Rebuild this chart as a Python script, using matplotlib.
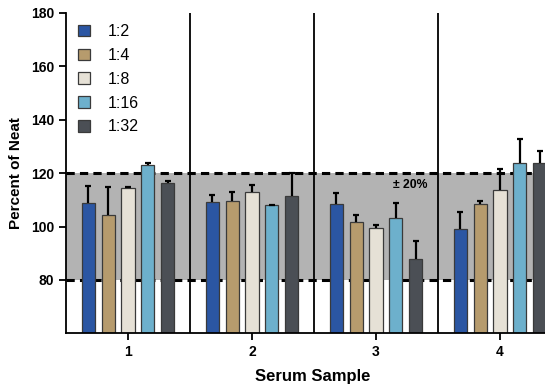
import numpy as np
import matplotlib.pyplot as plt

plt.rcParams['font.family'] = ['Liberation Sans', 'DejaVu Sans']

# Data
samples = ["1", "2", "3", "4"]
dilutions = ["1:2", "1:4", "1:8", "1:16", "1:32"]
colors = ["#2b56a3", "#b69b6d", "#e6e1d6", "#6db0cc", "#4b4f55"]

# mean percent of neat per dilution (rows) for each sample (columns)
means = [
    [109.0, 109.2, 108.4, 99.0],
    [104.2, 109.6, 101.8, 108.5],
    [114.5, 113.0, 99.6, 113.6],
    [123.2, 108.0, 103.2, 123.7],
    [116.4, 111.4, 87.9, 123.7],
]
# upper error (SD)
errors = [
    [6.3, 2.8, 4.3, 6.4],
    [10.5, 3.2, 2.6, 1.0],
    [0.3, 2.5, 1.0, 7.8],
    [0.5, 0.0, 5.6, 9.0],
    [0.5, 8.8, 6.5, 4.5],
]

fig = plt.figure(figsize=(5.45, 3.87), dpi=100)
ax = fig.add_axes([66 / 545, 1 - 333.3 / 387, 496 / 545, 320.3 / 387])

ax.set_ylim(60, 180)
ax.set_xlim(-0.5, 3.5)

# +/- 20% band
ax.axhspan(80, 120, color="#b3b3b3", zorder=0, lw=0)
for yv in (80, 120):
    ax.axhline(yv, color="black", lw=2.2, ls=(0, (2.7, 1.7)), zorder=1)

# group separators
for xv in (0.5, 1.5, 2.5):
    ax.axvline(xv, color="black", lw=1.3, zorder=1)

x = np.arange(len(samples))
step = 0.161
width = 0.105
for i, lab in enumerate(dilutions):
    pos = x + (i - 2) * step
    ax.bar(pos, means[i], width=width, color=colors[i],
           edgecolor="#3a3a3a", linewidth=0.9, label=lab, zorder=2)
    eb = ax.errorbar(pos, means[i], yerr=[np.zeros(len(samples)), errors[i]],
                     fmt="none", ecolor="black", elinewidth=1.6, capsize=2.5,
                     capthick=1.6, zorder=3)
    # only the upper cap is shown
    eb[1][0].set_visible(False)

ax.text(2.14, 115.6, "\u00b1 20%", fontsize=8.8, fontweight="bold",
        ha="left", va="center", zorder=4)

ax.spines["top"].set_visible(False)
ax.spines["right"].set_visible(False)
ax.spines["left"].set_linewidth(1.3)
ax.spines["bottom"].set_linewidth(1.3)

ax.set_yticks([80, 100, 120, 140, 160, 180])
ax.set_xticks(x)
ax.set_xticklabels(samples)
ax.tick_params(axis="both", labelsize=10, width=1.3, length=5)
for t in ax.get_xticklabels() + ax.get_yticklabels():
    t.set_fontweight("bold")

ax.set_xlabel("Serum Sample", fontsize=12, fontweight="bold")
ax.set_ylabel("Percent of Neat", fontsize=11, fontweight="bold", labelpad=6)
ax.xaxis.set_label_coords(0.498, -0.11)

leg = ax.legend(loc="upper left", frameon=False, fontsize=11.5,
                handlelength=0.75, handleheight=0.75, labelspacing=0.55,
                handletextpad=1.1, borderaxespad=0.0,
                bbox_to_anchor=(0.012, 0.985))

fig.savefig("out.png", dpi=100)
